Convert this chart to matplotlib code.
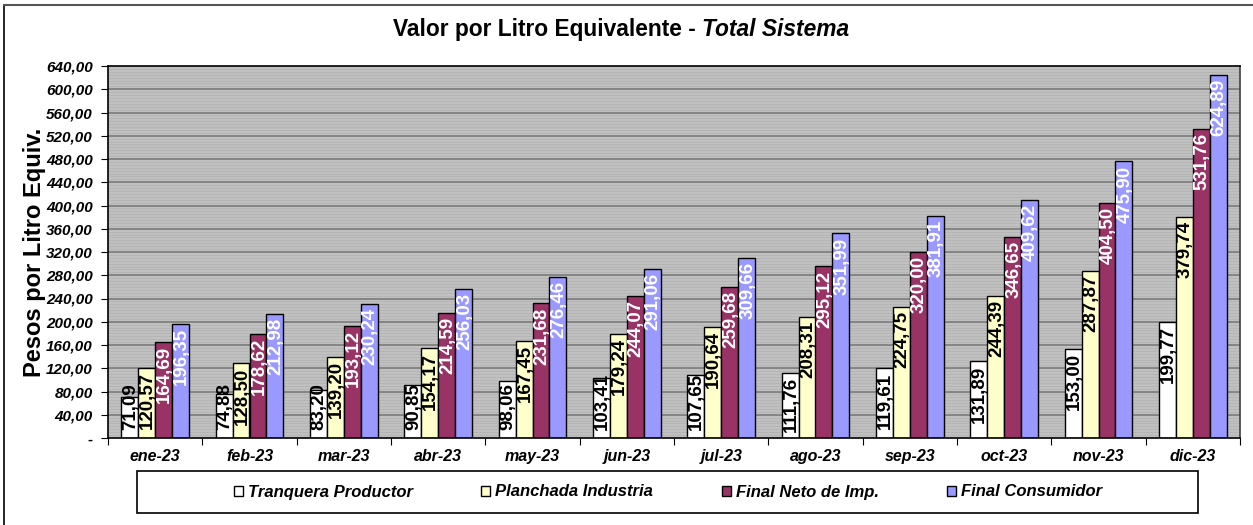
import numpy as np
import matplotlib.pyplot as plt
from matplotlib.patches import Rectangle
from matplotlib.lines import Line2D

meses = ["ene-23", "feb-23", "mar-23", "abr-23", "may-23", "jun-23",
         "jul-23", "ago-23", "sep-23", "oct-23", "nov-23", "dic-23"]
tranquera = [71.09, 74.88, 83.20, 90.85, 98.06, 103.41, 107.65, 111.76, 119.61, 131.89, 153.00, 199.77]
planchada = [120.57, 128.50, 139.20, 154.17, 167.45, 179.24, 190.64, 208.31, 224.75, 244.39, 287.87, 379.74]
neto_imp = [164.69, 178.62, 193.12, 214.59, 231.68, 244.07, 259.68, 295.12, 320.00, 346.65, 404.50, 531.76]
consumidor = [196.35, 212.98, 230.24, 256.03, 276.46, 291.06, 309.66, 351.99, 381.91, 409.62, 475.90, 624.89]

series = [
    ("Tranquera Productor", tranquera, "#FFFFFF", "black"),
    ("Planchada Industria", planchada, "#FFFFCC", "black"),
    ("Final Neto de Imp.", neto_imp, "#993366", "white"),
    ("Final Consumidor", consumidor, "#9999FF", "white"),
]

plt.rcParams["font.family"] = ["Liberation Sans", "DejaVu Sans"]

fig = plt.figure(figsize=(12.53, 5.25), dpi=100)
ax = fig.add_axes([108 / 1253, 87 / 525, 1132 / 1253, 372 / 525])
ax.set_facecolor("#C0C0C0")

# striped background + major grid
for yy in np.arange(0, 641, 5):
    ax.axhline(yy, color="#B4B4B4", lw=0.6, zorder=0)
for yy in np.arange(40, 640, 40):
    ax.axhline(yy, color="#808080", lw=1.3, zorder=0.5)

x = np.arange(len(meses))
w = 0.18
px_per_unit = 372 / 640
for i, (name, vals, col, tcol) in enumerate(series):
    xs = x + (i - 1.5) * w
    ax.bar(xs, vals, w, color=col, edgecolor="black", lw=1, zorder=2, label=name)
    for xi, v in zip(xs, vals):
        lab = f"{v:.2f}".replace(".", ",")
        if v * px_per_unit >= 64:
            ax.annotate(lab, (xi, v), xytext=(1, -4), textcoords="offset pixels",
                        rotation=90, ha="center", va="top", color=tcol,
                        fontsize=13.5, fontweight="bold", zorder=3)
        else:
            ax.annotate(lab, (xi, 0), xytext=(1, 8), textcoords="offset pixels",
                        rotation=90, ha="center", va="bottom", color=tcol,
                        fontsize=13.5, fontweight="bold", zorder=3)

ax.set_xlim(-0.5, len(meses) - 0.5)
ax.set_ylim(0, 640)

ax.set_xticks(np.arange(-0.5, len(meses)), [""] * (len(meses) + 1))
ax.set_xticks(x, meses, minor=True)
ax.tick_params(axis="x", which="major", length=5, direction="out")
ax.tick_params(axis="x", which="minor", length=0, pad=8)
for t in ax.get_xticklabels(minor=True):
    t.set_fontweight("bold")
    t.set_fontstyle("italic")
    t.set_fontsize(11.5)

yt = np.arange(0, 641, 40)
ax.set_yticks(yt, ["-"] + [f"{v:.2f}".replace(".", ",") for v in yt[1:]])
ax.tick_params(axis="y", length=5, direction="out", pad=6)
for t in ax.get_yticklabels():
    t.set_fontweight("bold")
    t.set_fontstyle("italic")
    t.set_fontsize(11)

for s in ax.spines.values():
    s.set_color("black")
    s.set_linewidth(1.2)
ax.spines["right"].set_color("#404040")

ax.set_ylabel("Pesos por Litro Equiv.", fontsize=17, fontweight="bold", labelpad=0)

fig.text(702 / 1253, 0.943, "Valor por Litro Equivalente - ", ha="right", va="center",
         fontsize=16.4, fontweight="bold")
fig.text(702 / 1253, 0.943, "Total Sistema", ha="left", va="center",
         fontsize=16.4, fontweight="bold", fontstyle="italic")

# legend box
fig.patches.append(Rectangle((137 / 1253, 12 / 525), 1061 / 1253, 42 / 525,
                             transform=fig.transFigure, fill=False,
                             edgecolor="black", lw=1.2))
leg = fig.legend(loc="center", bbox_to_anchor=(668 / 1253, 33 / 525), ncol=4,
                 frameon=False, handlelength=0.55, handleheight=0.55,
                 handletextpad=0.3, columnspacing=4.1,
                 prop={"family": ["Liberation Sans Narrow", "Liberation Sans"],
                       "weight": "bold", "style": "italic", "size": 12})

# outer chart border (top and left visible)
fig.add_artist(Line2D([4 / 1253, 4 / 1253], [0, 520 / 525], transform=fig.transFigure,
                      color="black", lw=1.2))
fig.add_artist(Line2D([4 / 1253, 1], [520 / 525, 520 / 525], transform=fig.transFigure,
                      color="#555555", lw=1.5))

fig.savefig("out.png", dpi=100)
